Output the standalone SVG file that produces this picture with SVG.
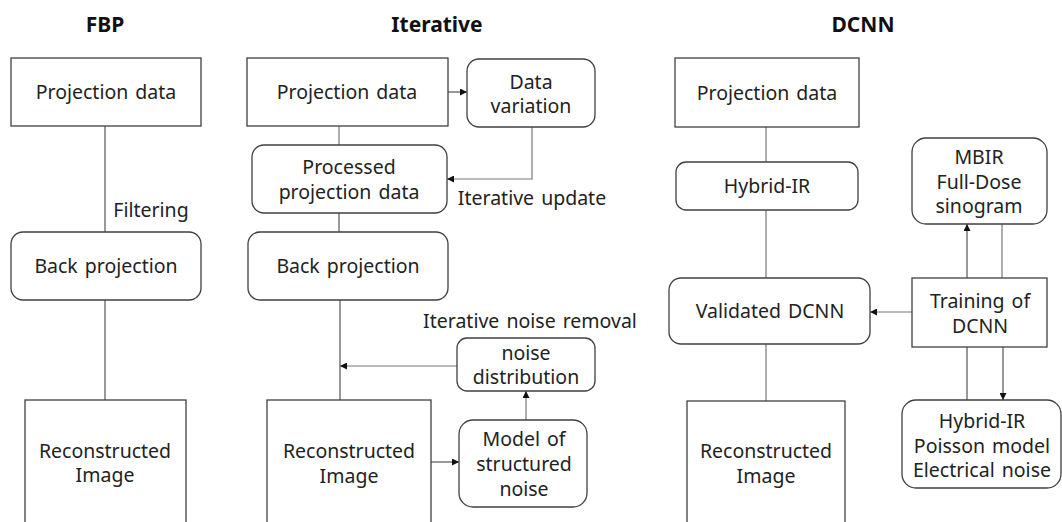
<svg xmlns="http://www.w3.org/2000/svg" width="1062" height="522" viewBox="0 0 1062 522">
<style>
.box{fill:#fff;stroke:#404040;stroke-width:1.3}
.t{font-family:"Noto Sans","Open Sans",sans-serif;font-size:19.5px;fill:#222;text-anchor:middle;word-spacing:2px}
.h{font-family:"Noto Sans","Open Sans",sans-serif;font-size:21px;font-weight:bold;fill:#111;text-anchor:middle}
.c{fill:none;stroke:#777;stroke-width:1.2}
.d{fill:none;stroke:#555;stroke-width:1.2}
</style>
<defs>
<marker id="ah" viewBox="0 0 10 10" refX="10" refY="5" markerWidth="7" markerHeight="7" markerUnits="userSpaceOnUse" orient="auto">
<path d="M0,0 L10,5 L0,10 z" fill="#111"/>
</marker>
</defs>
<rect width="1062" height="522" fill="#fff"/>
<text class="h" x="105" y="32">FBP</text>
<text class="h" x="437" y="32">Iterative</text>
<text class="h" x="863" y="32">DCNN</text>
<g id="connectors">
<line class="d" x1="105" y1="126" x2="105" y2="232"/>
<line class="d" x1="105" y1="300" x2="105" y2="400"/>
<line class="d" x1="448" y1="92" x2="467" y2="92" marker-end="url(#ah)"/>
<line class="c" x1="339" y1="126" x2="339" y2="145"/>
<polyline class="c" points="532,127 532,179 447,179" marker-end="url(#ah)"/>
<line class="d" x1="339" y1="213" x2="339" y2="232"/>
<line class="d" x1="340" y1="300" x2="340" y2="400"/>
<line class="c" x1="457" y1="366" x2="340" y2="366" marker-end="url(#ah)"/>
<line class="c" x1="526" y1="420" x2="526" y2="391" marker-end="url(#ah)"/>
<line class="d" x1="431" y1="462" x2="459" y2="462" marker-end="url(#ah)"/>
<line class="c" x1="766" y1="127" x2="766" y2="162"/>
<line class="c" x1="766" y1="210" x2="766" y2="278"/>
<line class="d" x1="967" y1="278" x2="967" y2="224" marker-end="url(#ah)"/>
<line class="c" x1="1002" y1="224" x2="1002" y2="278"/>
<line class="c" x1="912" y1="312" x2="870" y2="312" marker-end="url(#ah)"/>
<line class="c" x1="766" y1="344" x2="766" y2="401"/>
<line class="d" x1="967" y1="347" x2="967" y2="400"/>
<line class="d" x1="1003" y1="347" x2="1003" y2="400" marker-end="url(#ah)"/>
</g>
<text class="t" x="151" y="217">Filtering</text>
<text class="t" x="532" y="205">Iterative update</text>
<text class="t" x="530" y="328">Iterative noise removal</text>
<g id="fbp-proj"><rect class="box" x="11" y="58" width="190" height="68"/><text class="t" x="106" y="99">Projection data</text></g>
<g id="fbp-back"><rect class="box" x="11" y="232" width="190" height="68" rx="12"/><text class="t" x="106" y="273">Back projection</text></g>
<g id="fbp-recon"><rect class="box" x="25" y="400" width="161" height="140"/><text class="t" x="105" y="458">Reconstructed</text><text class="t" x="105" y="482">Image</text></g>
<g id="it-proj"><rect class="box" x="247" y="58" width="201" height="68"/><text class="t" x="347" y="99">Projection data</text></g>
<g id="it-var"><rect class="box" x="467" y="59" width="128" height="68" rx="12"/><text class="t" x="531" y="89">Data</text><text class="t" x="531" y="113">variation</text></g>
<g id="it-processed"><rect class="box" x="252" y="145" width="195" height="68" rx="12"/><text class="t" x="349" y="174">Processed</text><text class="t" x="349" y="199">projection data</text></g>
<g id="it-back"><rect class="box" x="248" y="232" width="200" height="68" rx="12"/><text class="t" x="348" y="273">Back projection</text></g>
<g id="it-noise"><rect class="box" x="457" y="338" width="138" height="53" rx="10"/><text class="t" x="526" y="360">noise</text><text class="t" x="526" y="384">distribution</text></g>
<g id="it-recon"><rect class="box" x="267" y="400" width="164" height="140"/><text class="t" x="349" y="458">Reconstructed</text><text class="t" x="349" y="483">Image</text></g>
<g id="it-model"><rect class="box" x="459" y="420" width="128" height="87" rx="14"/><text class="t" x="524" y="446">Model of</text><text class="t" x="524" y="471">structured</text><text class="t" x="524" y="496">noise</text></g>
<g id="dc-proj"><rect class="box" x="675" y="58" width="184" height="69"/><text class="t" x="767" y="100">Projection data</text></g>
<g id="dc-hybrid"><rect class="box" x="676" y="162" width="182" height="48" rx="10"/><text class="t" x="767" y="193">Hybrid-IR</text></g>
<g id="dc-mbir"><rect class="box" x="912" y="138" width="135" height="86" rx="14"/><text class="t" x="979" y="164">MBIR</text><text class="t" x="979" y="189">Full-Dose</text><text class="t" x="979" y="213">sinogram</text></g>
<g id="dc-valid"><rect class="box" x="669" y="278" width="201" height="66" rx="12"/><text class="t" x="770" y="318">Validated DCNN</text></g>
<g id="dc-train"><rect class="box" x="912" y="278" width="135" height="69"/><text class="t" x="980" y="308">Training of</text><text class="t" x="980" y="333">DCNN</text></g>
<g id="dc-recon"><rect class="box" x="687" y="401" width="158" height="140"/><text class="t" x="766" y="458">Reconstructed</text><text class="t" x="766" y="483">Image</text></g>
<g id="dc-hyb2"><rect class="box" x="902" y="400" width="159" height="88" rx="14"/><text class="t" x="982" y="428">Hybrid-IR</text><text class="t" x="982" y="453">Poisson model</text><text class="t" x="982" y="477">Electrical noise</text></g>
</svg>
